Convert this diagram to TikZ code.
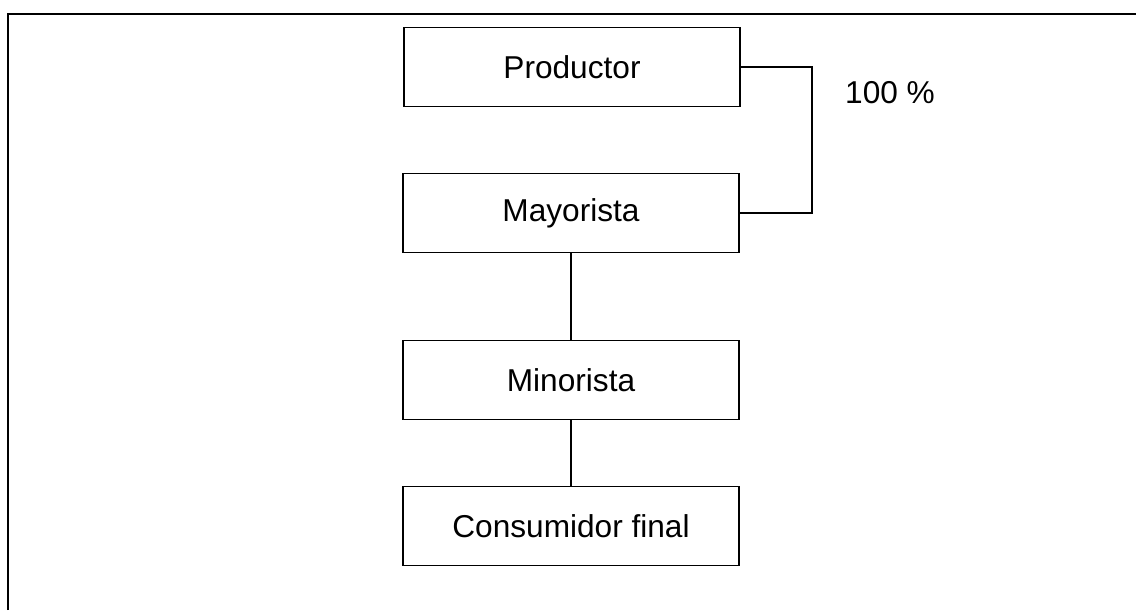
\documentclass[tikz,border=0pt]{standalone}
\usepackage{fontspec}
\setmainfont{Liberation Sans}
\usepackage{tikz}

\tikzset{
    etapa/.style={draw, line width=1.1pt, minimum width=6.72cm, minimum height=1.58cm, inner sep=0pt, font=\fontsize{18}{22}\selectfont},
    enlace/.style={line width=0.9pt}
}

\begin{document}
\begin{tikzpicture}[x=0.02cm,y=-0.02cm]
        \useasboundingbox (0,0) rectangle (1136,610);
        \draw[line width=1.4pt] (8,610) -- (8,14) -- (1136,14);
        \node[etapa] (prod) at (572,67) {Productor};
        \node[etapa] (may) at (571,213) {Mayorista};
        \node[etapa] (min) at (571,380) {Minorista};
        \node[etapa] (cons) at (571,526) {Consumidor final};
        \coordinate (codo) at (812,67);
        \draw[enlace] (prod.east) -- (codo) |- (may.east);
        \draw[enlace] (may) -- (min);
        \draw[enlace] (min) -- (cons);
        \node[font=\fontsize{18}{22}\selectfont] (pct) at (890,93) {100 \%};
    \end{tikzpicture}
\end{document}
